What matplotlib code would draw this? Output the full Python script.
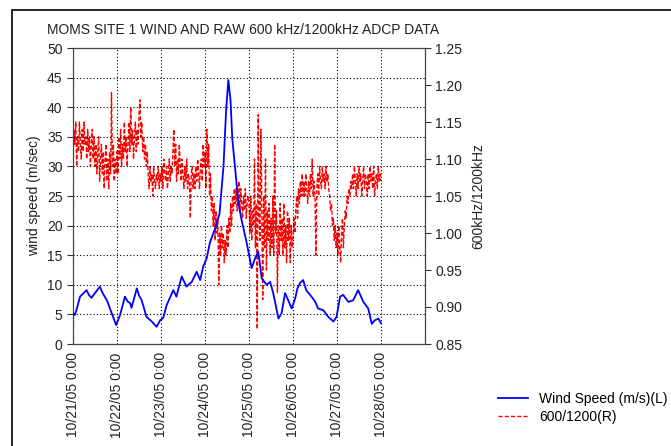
import numpy as np
import matplotlib
matplotlib.use("Agg")
import matplotlib.pyplot as plt
from matplotlib.patches import Rectangle

plt.rcParams['font.family'] = ['Liberation Sans', 'DejaVu Sans']
plt.rcParams['font.size'] = 10

# wind speed (m/s), days after 10/21/05 0:00
wind_day = [0.0, 0.04, 0.07, 0.16, 0.31, 0.36, 0.42, 0.50, 0.61, 0.68, 0.77, 0.88, 0.98,
            1.07, 1.18, 1.24, 1.30, 1.33, 1.45, 1.50, 1.56, 1.67, 1.79, 1.90, 1.98,
            2.05, 2.13, 2.28, 2.35, 2.47, 2.58, 2.70, 2.81, 2.89, 2.96,
            3.04, 3.11, 3.23, 3.33, 3.42, 3.48, 3.53, 3.58, 3.62, 3.68,
            3.76, 3.83, 3.95, 4.06, 4.14, 4.21, 4.29, 4.40, 4.48, 4.55,
            4.67, 4.74, 4.82, 4.89, 4.97, 5.05, 5.10, 5.16, 5.23, 5.30, 5.42,
            5.50, 5.57, 5.69, 5.80, 5.92, 5.99, 6.07, 6.14, 6.26, 6.37, 6.48,
            6.60, 6.71, 6.79, 6.86, 6.94, 7.00]
wind = [5.2, 4.9, 5.5, 8.0, 9.1, 8.3, 7.8, 8.6, 9.7, 8.5, 7.4, 5.2, 3.2,
        4.9, 8.0, 7.2, 6.9, 6.1, 9.4, 8.2, 7.4, 4.6, 3.8, 2.9, 4.0,
        4.4, 6.6, 9.1, 8.0, 11.4, 9.7, 10.5, 12.2, 10.8, 13.1,
        14.5, 17.1, 19.5, 22.0, 30.0, 39.5, 44.6, 41.2, 34.7, 30.0,
        23.8, 21.0, 17.0, 12.8, 14.5, 15.6, 11.1, 10.0, 10.5, 8.6,
        4.3, 5.2, 8.6, 7.4, 6.0, 7.7, 9.4, 10.3, 10.8, 9.1, 8.0,
        7.2, 6.0, 5.7, 4.6, 3.8, 4.6, 8.0, 8.3, 7.1, 7.4, 9.1,
        7.1, 6.0, 3.4, 4.0, 4.3, 3.5]

# half-hourly 600/1200 kHz ratio, one row per six hours
ratio = [
    1.10, 1.14, 1.12, 1.15, 1.09, 1.13, 1.11, 1.15, 1.12, 1.10, 1.14, 1.11,
    1.15, 1.12, 1.13, 1.10, 1.14, 1.11, 1.13, 1.09, 1.12, 1.14, 1.10, 1.13,
    1.09, 1.12, 1.08, 1.11, 1.13, 1.07, 1.10, 1.12, 1.08, 1.11, 1.06, 1.10,
    1.12, 1.07, 1.10, 1.06, 1.11, 1.08, 1.19, 1.09, 1.12, 1.07, 1.10, 1.08,
    1.11, 1.08, 1.13, 1.10, 1.14, 1.09, 1.12, 1.10, 1.15, 1.11, 1.13, 1.09,
    1.12, 1.15, 1.11, 1.17, 1.12, 1.14, 1.10, 1.13, 1.15, 1.11, 1.14, 1.12,
    1.16, 1.18, 1.13, 1.15, 1.11, 1.13, 1.10, 1.12, 1.09, 1.11, 1.08, 1.06,
    1.09, 1.07, 1.08, 1.05, 1.09, 1.07, 1.06, 1.08, 1.07, 1.09, 1.06, 1.08,
    1.07, 1.09, 1.06, 1.10, 1.08, 1.07, 1.09, 1.06, 1.08, 1.10, 1.07, 1.09,
    1.08, 1.11, 1.14, 1.09, 1.12, 1.07, 1.10, 1.08, 1.12, 1.09, 1.07, 1.10,
    1.08, 1.06, 1.09, 1.07, 1.10, 1.06, 1.08, 1.07, 1.02, 1.08, 1.09, 1.06,
    1.08, 1.06, 1.09, 1.07, 1.10, 1.08, 1.06, 1.09, 1.10, 1.07, 1.12, 1.09,
    1.11, 1.06, 1.14, 1.09, 1.12, 1.05, 1.08, 1.03, 1.05, 1.01, 1.04, 0.99,
    1.03, 1.00, 1.02, 0.93, 1.00, 0.97, 1.01, 0.98, 1.00, 0.96, 0.99, 0.97,
    1.01, 0.98, 1.02, 1.00, 1.04, 1.01, 1.05, 1.03, 1.06, 1.04, 1.06, 1.03,
    1.05, 1.07, 1.03, 1.06, 1.04, 1.02, 1.05, 1.03, 1.06, 1.02, 1.04, 1.05,
    1.04, 1.00, 1.05, 0.99, 1.03, 1.01, 1.10, 0.98, 1.04, 0.87, 1.16, 1.02,
    0.99, 1.14, 1.03, 0.91, 1.05, 0.98, 1.10, 0.95, 1.03, 0.99, 1.04, 0.97,
    1.02, 0.98, 1.05, 0.97, 1.12, 1.00, 1.03, 0.92, 1.01, 0.97, 1.04, 0.99,
    1.02, 0.97, 1.04, 0.98, 1.01, 0.96, 1.03, 0.99, 1.02, 0.96, 1.01, 0.98,
    0.99, 1.02, 1.00, 1.03, 1.05, 1.02, 1.06, 1.04, 1.07, 1.05, 1.08, 1.05,
    1.07, 1.05, 1.08, 1.06, 1.04, 1.07, 1.05, 1.08, 1.06, 1.10, 1.05, 1.07,
    1.05, 0.97, 1.06, 1.08, 1.05, 1.09, 1.07, 1.06, 1.09, 1.07, 1.08, 1.06,
    1.09, 1.07, 1.08, 1.06, 1.05, 1.03, 1.04, 1.01, 1.02, 0.99, 1.01, 0.98,
    1.00, 0.97, 1.01, 0.98, 0.96, 1.00, 1.02, 0.98, 1.01, 1.03, 1.02, 1.05,
    1.04, 1.06, 1.05, 1.07, 1.06, 1.08, 1.06, 1.09, 1.07, 1.05, 1.08, 1.06,
    1.09, 1.07, 1.08, 1.05, 1.07, 1.09, 1.06, 1.08, 1.07, 1.05, 1.08, 1.06,
    1.09, 1.07, 1.08, 1.06, 1.09, 1.05, 1.07, 1.08, 1.06, 1.09, 1.07, 1.08,
    1.07]
ratio_day = np.arange(len(ratio)) / 48.0

date_labels = ['10/21/05 0:00', '10/22/05 0:00', '10/23/05 0:00', '10/24/05 0:00',
               '10/25/05 0:00', '10/26/05 0:00', '10/27/05 0:00', '10/28/05 0:00']

fig = plt.figure(figsize=(6.71, 4.46), dpi=100)
fig.patches.append(Rectangle((12 / 671, -0.05), 1.1, 0.05 + 1 - 10 / 446,
                             transform=fig.transFigure, fill=False,
                             edgecolor='black', linewidth=1.2))

ax = fig.add_axes([73 / 671, 102 / 446, 352 / 671, 296 / 446])
ax2 = ax.twinx()

l1, = ax.plot(wind_day, wind, color='#0000ff', linewidth=1.3,
              label='Wind Speed (m/s)(L)', zorder=3)
l2, = ax2.plot(ratio_day, ratio, color='#ff0000', linewidth=1.0,
               linestyle=(0, (3, 1.5)), label='600/1200(R)')
ax.set_zorder(ax2.get_zorder() + 1)
ax.patch.set_visible(False)

ax.set_xlim(0, 8)
ax.set_ylim(0, 50)
ax.set_yticks(np.arange(0, 51, 5))
ax2.set_ylim(0.85, 1.25)
ax2.set_yticks(np.arange(0.85, 1.251, 0.05))
ax2.set_yticklabels(['%.2f' % v for v in np.arange(0.85, 1.251, 0.05)])

# gridlines every day, labels up to 10/28
ax.set_xticks(range(9))
ax.set_xticklabels(date_labels + [''], rotation=90)

ax.grid(True, color='black', linestyle=(0, (1, 2)), linewidth=0.8)
ax.tick_params(axis='y', direction='out', length=4, colors='#333333', labelcolor='#222222')
ax.tick_params(axis='x', length=0, pad=6, labelcolor='#222222')
ax2.tick_params(direction='out', length=4, colors='#333333', labelcolor='#222222')
for a in (ax, ax2):
    for s in a.spines.values():
        s.set_color('#444444')

ax.set_ylabel('wind speed (m/sec)', color='#222222', labelpad=4)
ax2.set_ylabel('600kHz/1200kHz', color='#222222', labelpad=6)

fig.text(47 / 671, 1 - 30 / 446, 'MOMS SITE 1 WIND AND RAW 600 kHz/1200kHz ADCP DATA',
         ha='left', va='center', fontsize=10, color='#222222')

fig.legend(handles=[l1, l2], loc='upper left', bbox_to_anchor=(492 / 671, 1 - 386 / 446),
           frameon=False, fontsize=10, handlelength=2.2, labelspacing=0.3,
           borderaxespad=0)

fig.savefig('out.png', dpi=100)
